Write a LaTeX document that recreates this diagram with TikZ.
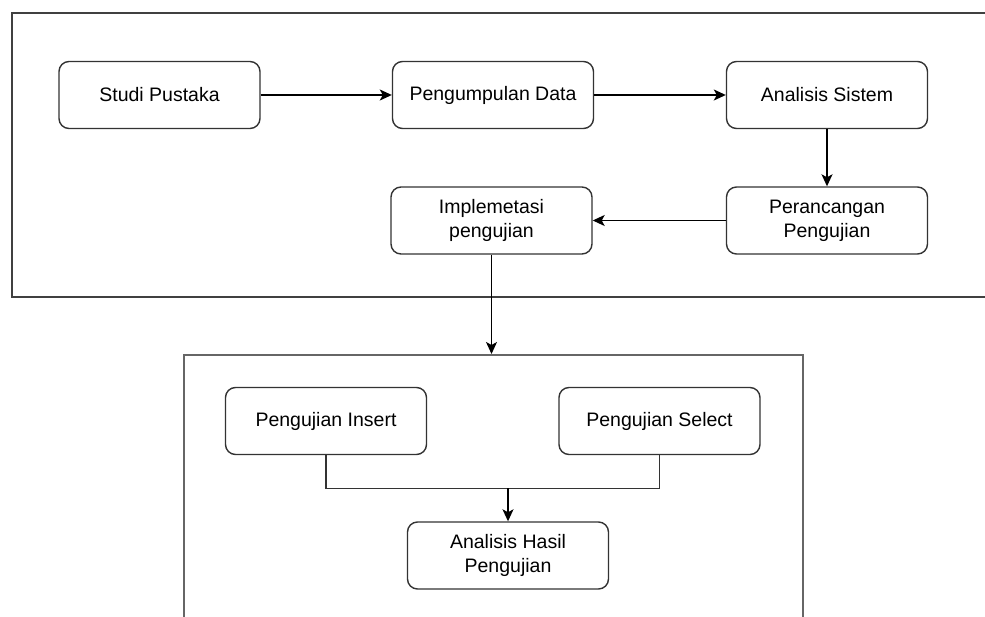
\documentclass[tikz,border=0pt]{standalone}
\usepackage{fontspec}
\setmainfont{Liberation Sans}
\usetikzlibrary{arrows.meta,positioning,calc}
\begin{document}
\begin{tikzpicture}[x=1pt,y=-1pt,
  box/.style={draw=black!80,line width=1.4pt,rounded corners=10pt,fill=white,
    minimum width=201pt,minimum height=67pt,align=center,inner sep=2pt,
    font=\fontsize{19.5}{24}\selectfont},
  frame/.style={draw=black!75,line width=1.8pt,inner sep=0pt},
  arr/.style={draw=black,line width=1.4pt,-{Stealth[length=12pt,width=11pt,inset=3pt]}},
  conn/.style={draw=black!80,line width=1.4pt}]
\useasboundingbox (0,0) rectangle (985,617);
\clip (0,0) rectangle (985,617);
% frames
\node[frame,minimum width=999pt,minimum height=284pt,anchor=north west] (frame1) at (11,12) {};
\node[frame,draw=black!60,minimum width=619pt,minimum height=300pt,anchor=north west] (frame2) at (183,354) {};
% top boxes
\node[box] (studi) at (159.5,95) {Studi Pustaka};
\node[box] (kumpul) at (493,95) {Pengumpulan Data};
\node[box] (anal) at (827,95) {Analisis Sistem};
\node[box] (ranc) at (827,220.5) {Perancangan\\Pengujian};
\node[box] (impl) at (491.5,220.5) {Implemetasi\\pengujian};
% bottom boxes
\node[box] (insert) at (326,421) {Pengujian Insert};
\node[box] (select) at (659.5,421) {Pengujian Select};
\node[box] (hasil) at (508,555.5) {Analisis Hasil\\Pengujian};
% connectors
\draw[arr] (studi) -- (kumpul);
\draw[arr] (kumpul) -- (anal);
\draw[arr] (anal) -- (ranc);
\draw[arr] (ranc) -- (impl);
\draw[arr] (impl.south) -- (impl.south |- frame2.north);
\coordinate (join) at ($(insert.south)+(0,33)$);
\draw[conn] (insert.south) -- (join) -| (select.south);
\draw[arr] (join -| hasil.north) -- (hasil.north);
\end{tikzpicture}
\end{document}
